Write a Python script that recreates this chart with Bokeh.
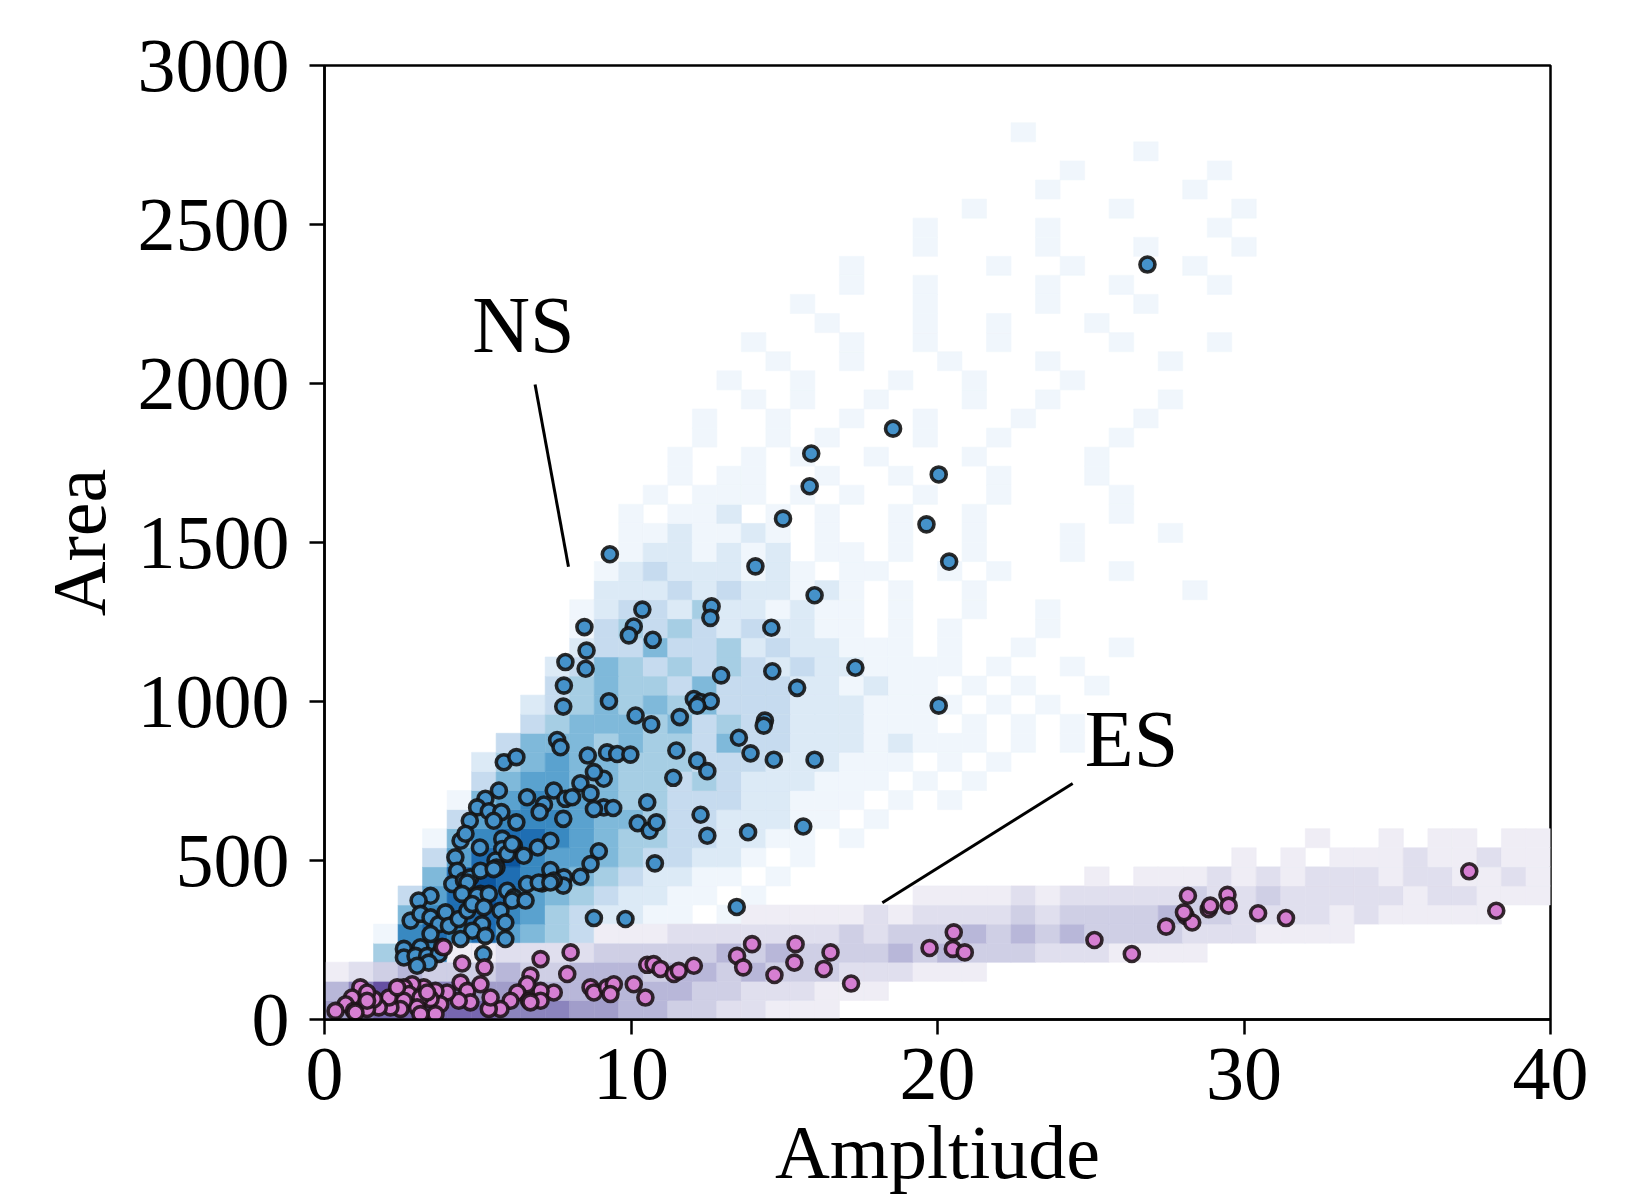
from bokeh.plotting import figure
from bokeh.models import Range1d, FixedTicker
from bokeh.core.properties import value
from bokeh.embed import file_html
from bokeh.resources import INLINE

# ---------------- data ----------------
X_TICKS = [0, 10, 20, 30, 40]
Y_TICKS = [0, 500, 1000, 1500, 2000, 2500, 3000]

# 2D histogram bins (amplitude width, area height)
BIN_W = 0.8
BIN_H = 60

# NS histogram: one entry per area row (from 0 upward): (first column, intensity digits 0-9)
NS_HIST_ROWS = [
    (3, "11"),
    (1, "1343211"),
    (1, "2575443322211"),
    (2, "48767543231"),
    (2, "17878654322101"),
    (3, "578876432211010"),
    (3, "368986543221101"),
    (4, "589876543221101"),
    (4, "3689766543322101"),
    (4, "157887654433221101"),
    (5, "367776554332221101"),
    (5, "156766544333221110101"),
    (6, "356655443432221110101"),
    (6, "2456554443332221110101"),
    (7, "355545443533222121110101"),
    (8, "34555453433222111010101"),
    (8, "2345454533322211110101"),
    (9, "34544353332212110101001"),
    (9, "2354343432322111101001"),
    (10, "23353342322111010010001"),
    (10, "13434323221101010001"),
    (10, "12332422121101001001"),
    (11, "2223232212101001000000001"),
    (11, "1232221210110010100001"),
    (12, "122121201101001000100"),
    (12, "11211210100100100010001"),
    (12, "1011201010010010000010"),
    (13, "10111010100100100001"),
    (13, "0101100100100010001"),
    (14, "1001010010001000010"),
    (14, "0100101000100100001"),
    (15, "100100100100010000100"),
    (15, "00101001000100100001"),
    (16, "1001000100100010000"),
    (17, "010010001000100001"),
    (17, "10001001001000010001"),
    (18, "001000100100010000"),
    (19, "1000010000100010"),
    (20, "01001000010010001"),
    (21, "100000100100001"),
    (22, "0010000100010001"),
    (24, "1000010000001"),
    (26, "100000100001"),
    (28, "01000001"),
    (30, "1000001"),
    (33, "1"),
    (28, "1"),
]

# ES histogram rows
ES_HIST_ROWS = [
    (0, "567777766655443322111"),
    (0, "46876655544544433222111"),
    (0, "123433343344434434333222111"),
    (5, "1122223333343433334343332221111"),
    (11, "1112222222323334343433332221111"),
    (17, "1111121222232333343322221211111"),
    (24, "11112122222322322222122111"),
    (31, "1011121212221221121"),
    (37, "1010111211211"),
    (40, "1001011011"),
]

# NS events (amplitude, area)
NS_X = [26.85, 18.55, 15.88, 15.83, 20.04, 14.96, 19.64, 20.38, 14.06, 9.31,
        15.99, 10.37, 12.63, 12.59, 10.09, 9.93, 10.71, 14.58, 8.48, 8.55,
        7.86, 8.52, 12.94, 14.61, 17.32, 15.42, 7.81, 7.79, 9.28, 20.04,
        10.15, 10.66, 11.59, 12.05, 12.27, 12.60, 12.16, 14.37, 14.33, 13.52,
        13.90, 14.66, 15.99, 9.22, 9.55, 9.98, 11.48, 12.16, 12.49, 11.38,
        9.11, 10.53, 9.11, 9.42, 12.27, 10.22, 10.61, 10.83, 12.49, 13.82,
        15.62, 10.78, 8.79, 9.82, 13.45,
        7.59, 7.70, 5.85, 6.26, 8.59, 8.79, 8.35, 8.68, 7.48, 7.86,
        8.08, 8.79, 5.69, 6.61, 7.16, 7.02, 7.79, 5.25, 4.98, 5.36,
        5.77, 5.52, 4.74, 6.26, 4.44, 4.60, 5.07, 5.80, 6.18, 5.80,
        7.37, 6.96, 6.50, 5.58, 5.61, 5.96, 4.27, 8.95, 8.68, 8.35,
        7.37, 7.10, 7.81, 7.79, 6.61, 7.48, 4.33, 4.17, 4.55, 4.76,
        5.09, 3.46, 3.07, 5.09, 5.96, 6.18,
        6.12, 4.66, 5.52, 4.49, 4.98, 5.36, 6.12, 6.56, 6.99, 7.37,
        2.81, 3.13, 3.46, 3.73, 3.95, 4.06, 4.38, 4.66, 4.82, 5.20,
        5.14, 4.82, 4.44, 5.74, 5.90, 5.90, 5.25, 5.18, 3.46, 3.13,
        2.59, 2.59, 2.97, 3.35, 3.73, 3.84, 3.40, 3.02]
NS_Y = [2374, 1858, 1780, 1677, 1714, 1575, 1557, 1440, 1425, 1463,
        1334, 1289, 1299, 1263, 1236, 1208, 1194, 1232, 1234, 1160,
        1124, 1103, 1082, 1095, 1106, 1043, 1050, 984, 1001, 987,
        956, 928, 951, 1008, 998, 1001, 987, 940, 924, 886,
        837, 817, 817, 840, 835, 833, 846, 814, 781, 760,
        757, 683, 667, 665, 644, 617, 594, 620, 578, 589,
        607, 491, 319, 316, 354,
        879, 856, 809, 825, 830, 778, 743, 711, 720, 694,
        699, 662, 720, 699, 676, 652, 631, 694, 667, 655,
        652, 625, 625, 620, 562, 584, 541, 568, 547, 536,
        562, 541, 515, 500, 478, 521, 510, 529, 489, 449,
        470, 428, 447, 421, 426, 437, 468, 426, 437, 447,
        468, 389, 374, 395, 405, 384,
        552, 431, 473, 395, 389, 395, 374, 374, 431, 431,
        311, 332, 321, 300, 337, 295, 316, 342, 363, 353,
        300, 279, 253, 342, 305, 253, 263, 206, 269, 227,
        222, 195, 200, 200, 206, 229, 179, 169]

# ES events (amplitude, area)
ES_X = [3.89, 4.49, 5.22, 7.05, 8.03, 7.92, 6.72, 10.53, 10.74, 10.96,
        11.40, 11.56, 12.05, 13.46, 10.09, 10.47, 8.68, 8.79, 9.22, 9.44,
        9.33, 7.48, 7.05, 6.61, 6.29, 6.67, 7.05, 6.07, 5.74, 5.36,
        5.42, 4.44, 4.66, 5.09, 4.76, 4.38, 4.00, 3.62, 3.78, 3.46,
        3.24, 2.86, 2.59, 2.75, 3.13, 3.02, 2.59, 2.48, 2.15, 2.10,
        1.77, 1.39, 1.61, 1.17, 0.90, 0.69, 0.36, 0.96, 3.62, 3.13,
        2.37, 1.39, 1.01, 1.39, 3.35, 6.72,
        13.95, 13.66, 14.68, 15.37, 15.33, 16.51, 16.29, 17.18, 19.74, 20.53,
        20.50, 20.89, 25.12,
        26.34, 27.46, 28.17, 28.10, 28.31, 28.04, 28.85, 28.90, 29.46, 29.50,
        30.46, 31.37, 37.35, 38.23]
ES_Y = [227, 176, 164, 190, 211, 143, 138, 172, 174, 159,
        143, 153, 169, 200, 111, 69, 101, 85, 101, 111,
        80, 85, 90, 111, 85, 59, 59, 59, 33, 33,
        69, 116, 90, 111, 54, 59, 85, 90, 48, 64,
        101, 111, 101, 80, 69, 38, 59, 33, 38, 69,
        38, 33, 64, 101, 69, 48, 27, 27, 17, 17,
        101, 85, 22, 59, 85, 54,
        237, 164, 140, 237, 179, 211, 159, 113, 225, 274,
        222, 211, 250,
        206, 292, 389, 326, 305, 337, 347, 358, 392, 358,
        334, 319, 466, 342]

# annotations: label position and pointer line
NS_LABEL = (6.49, 2183)
NS_LINE_X = [6.87, 7.96]
NS_LINE_Y = [1997, 1424]
ES_LABEL = (26.33, 883)
ES_LINE_X = [24.41, 18.20]
ES_LINE_Y = [742, 367]

# ---------------- styling ----------------
BLUE_PAL = ["#f0f6fc", "#dceaf6", "#c6dbef", "#a6cee4", "#7fb9da",
            "#5aa2cf", "#3989c1", "#1f6eb3", "#0b559f"]
PURPLE_PAL = ["#efedf5", "#e0dfee", "#cfcfe5", "#b8b7d9", "#a19dca",
              "#8b84bd", "#7767b0", "#6550a2", "#553592"]
FONT = "Liberation Serif"
N_COLS = 50


def hist_cells(rows, palette):
    left, right, bottom, top, color = [], [], [], [], []
    for r, (start, digits) in enumerate(rows):
        for k, ch in enumerate(digits):
            lvl = int(ch)
            c = start + k
            if lvl == 0 or c >= N_COLS:
                continue
            left.append(c * BIN_W)
            right.append((c + 1) * BIN_W)
            bottom.append(r * BIN_H)
            top.append((r + 1) * BIN_H)
            color.append(palette[lvl - 1])
    return dict(left=left, right=right, bottom=bottom, top=top, color=color)


p = figure(frame_width=1226, frame_height=954,
           x_range=Range1d(0, 40), y_range=Range1d(0, 3000),
           output_backend="svg", toolbar_location=None,
           min_border_left=324, min_border_right=83,
           min_border_top=65, min_border_bottom=185)
p.xgrid.visible = False
p.ygrid.visible = False
p.outline_line_color = "black"
p.outline_line_width = 2.5
p.outline_line_alpha = 1.0
p.background_fill_color = "white"

for ax in (p.xaxis, p.yaxis):
    ax.axis_line_width = 2.5
    ax.axis_line_color = "black"
    ax.major_tick_in = 0
    ax.major_tick_out = 15
    ax.major_tick_line_width = 2.5
    ax.major_tick_line_color = "black"
    ax.minor_tick_line_color = None
    ax.major_label_text_font = FONT
    ax.major_label_text_font_size = "76px"
    ax.major_label_text_color = "black"
    ax.axis_label_text_font = FONT
    ax.axis_label_text_font_size = "76px"
    ax.axis_label_text_font_style = "normal"
    ax.axis_label_text_color = "black"

p.xaxis.ticker = FixedTicker(ticks=X_TICKS)
p.yaxis.ticker = FixedTicker(ticks=Y_TICKS)
p.xaxis.major_label_standoff = 14
p.yaxis.major_label_standoff = 20
p.xaxis.axis_label = "Ampltiude"
p.yaxis.axis_label = "Area"
p.xaxis.axis_label_standoff = 8
p.yaxis.axis_label_standoff = 14

ns_cells = hist_cells(NS_HIST_ROWS, BLUE_PAL)
es_cells = hist_cells(ES_HIST_ROWS, PURPLE_PAL)
p.quad(left="left", right="right", bottom="bottom", top="top",
       fill_color="color", line_color="color", line_width=0.6, source=ns_cells)
p.quad(left="left", right="right", bottom="bottom", top="top",
       fill_color="color", line_color="color", line_width=0.6, source=es_cells)

p.scatter(NS_X, NS_Y, size=15, fill_color="#4592ca", line_color="#141414",
          line_width=3.6, line_alpha=0.9)
p.scatter(ES_X, ES_Y, size=15, fill_color="#d67fd2", line_color="#1e1418",
          line_width=3.6, line_alpha=0.9)

p.line(NS_LINE_X, NS_LINE_Y, line_width=3, line_color="black")
p.line(ES_LINE_X, ES_LINE_Y, line_width=3, line_color="black")
p.text(x=[NS_LABEL[0]], y=[NS_LABEL[1]], text=["NS"], text_font=value(FONT),
       text_font_size=value("80px"), text_align="center",
       text_baseline="alphabetic", text_color="black")
p.text(x=[ES_LABEL[0]], y=[ES_LABEL[1]], text=["ES"], text_font=value(FONT),
       text_font_size=value("80px"), text_align="center",
       text_baseline="alphabetic", text_color="black")

open("out.html", "w").write(file_html(p, INLINE))
